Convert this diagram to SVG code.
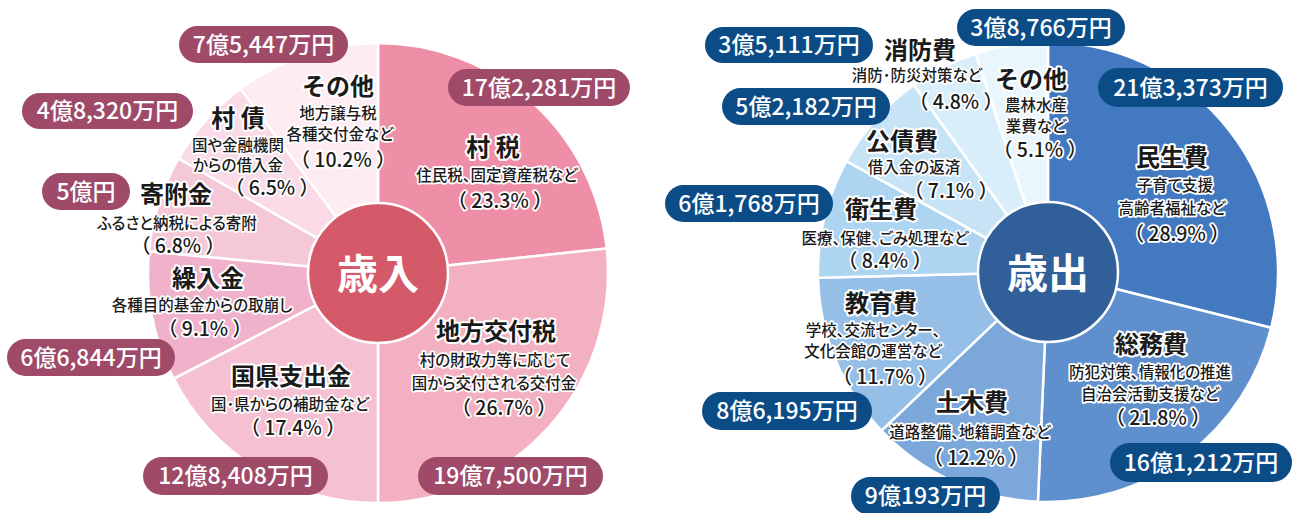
<svg xmlns="http://www.w3.org/2000/svg" width="1293" height="513" viewBox="0 0 1293 513">
<style>
text{font-family:"Noto Sans CJK JP","Noto Sans",sans-serif;text-anchor:middle}
.sl{stroke:#fff;stroke-width:2.5;stroke-linejoin:round}
.hub{stroke:#fff;stroke-width:2.5}
.hubt{fill:#fff;font-size:41px;font-weight:700}
.t{fill:#1a1a1a;font-size:24px;font-weight:700;stroke:#fff;stroke-width:4;paint-order:stroke;stroke-linejoin:round}
.s{fill:#1a1a1a;font-size:15.5px;font-weight:500;font-feature-settings:"palt";stroke:#fff;stroke-width:3.5;paint-order:stroke;stroke-linejoin:round}
.p{fill:#1a1a1a;font-size:19.5px;font-weight:500;stroke:#fff;stroke-width:3.5;paint-order:stroke;stroke-linejoin:round}
.pl{fill:#fff;font-size:23px;font-weight:500}
.pr{fill:#9f4a69}
.pb{fill:#0b4c87}
</style>

<g id="connectors">
<!-- Revenue pie slices -->
<path class="sl" fill="#ef8fa7" d="M378,273 L378,43 A230,230 0 0 1 606.69,248.48 Z"/>
<path class="sl" fill="#f3b0c1" d="M378,273 L606.69,248.48 A230,230 0 0 1 378,503 Z"/>
<path class="sl" fill="#f5c0d2" d="M378,273 L378,503 A230,230 0 0 1 173.72,378.72 Z"/>
<path class="sl" fill="#f0b2cb" d="M378,273 L173.72,378.72 A230,230 0 0 1 149.02,251.35 Z"/>
<path class="sl" fill="#f5c8d8" d="M378,273 L149.02,251.35 A230,230 0 0 1 178.57,158.42 Z"/>
<path class="sl" fill="#f9dae6" d="M378,273 L178.57,158.42 A230,230 0 0 1 240.49,88.63 Z"/>
<path class="sl" fill="#fdecf2" d="M378,273 L240.49,88.63 A230,230 0 0 1 378,43 Z"/>
<!-- Expenditure pie slices -->
<path class="sl" fill="#4279c0" d="M1048,272 L1048,42 A230,230 0 0 1 1271.13,327.8 Z"/>
<path class="sl" fill="#5f90cd" d="M1048,272 L1271.13,327.8 A230,230 0 0 1 1037.89,501.78 Z"/>
<path class="sl" fill="#7ba7da" d="M1048,272 L1037.89,501.78 A230,230 0 0 1 881.43,430.61 Z"/>
<path class="sl" fill="#95bfe7" d="M1048,272 L881.43,430.61 A230,230 0 0 1 818.07,277.78 Z"/>
<path class="sl" fill="#add5f1" d="M1048,272 L818.07,277.78 A230,230 0 0 1 846.45,161.2 Z"/>
<path class="sl" fill="#c7e4f6" d="M1048,272 L846.45,161.2 A230,230 0 0 1 913.96,85.1 Z"/>
<path class="sl" fill="#d8eefa" d="M1048,272 L913.96,85.1 A230,230 0 0 1 975.55,53.71 Z"/>
<path class="sl" fill="#eaf6fd" d="M1048,272 L975.55,53.71 A230,230 0 0 1 1048,42 Z"/>
</g>

<g id="hub-revenue">
<circle class="hub" cx="378" cy="273" r="70" fill="#d45a6a"/>
<text class="hubt" x="378" y="289">歳入</text>
</g>
<g id="hub-expenditure">
<circle class="hub" cx="1048" cy="272" r="70" fill="#305f99"/>
<text class="hubt" x="1048" y="288">歳出</text>
</g>

<!-- Revenue nodes -->
<g id="node-sonta">
<text class="t" x="338" y="95">その他</text>
<text class="s" x="338" y="118.5">地方譲与税</text>
<text class="s" x="340" y="140">各種交付金など</text>
<text class="p" x="343" y="167">（ 10.2% ）</text>
<rect class="pr" x="179" y="26" width="169" height="37" rx="18.5"/>
<text class="pl" x="263.5" y="52.5">7億5,447万円</text>
</g>
<g id="node-sonzei">
<text class="t" x="493" y="156">村 税</text>
<text class="s" x="497" y="181">住民税、固定資産税など</text>
<text class="p" x="500" y="207.5">（ 23.3% ）</text>
<rect class="pr" x="448" y="69" width="182" height="37" rx="18.5"/>
<text class="pl" x="539" y="95.5">17億2,281万円</text>
</g>
<g id="node-chihokofuzei">
<text class="t" x="496" y="340">地方交付税</text>
<text class="s" x="495" y="365.5">村の財政力等に応じて</text>
<text class="s" x="494" y="388.5">国から交付される交付金</text>
<text class="p" x="504" y="415">（ 26.7% ）</text>
<rect class="pr" x="418" y="457" width="185" height="38" rx="19"/>
<text class="pl" x="510.5" y="484">19億7,500万円</text>
</g>
<g id="node-kokken">
<text class="t" x="291" y="385">国県支出金</text>
<text class="s" x="290" y="409.5">国･県からの補助金など</text>
<text class="p" x="293" y="435">（ 17.4% ）</text>
<rect class="pr" x="143" y="457" width="185" height="38" rx="19"/>
<text class="pl" x="235.5" y="484">12億8,408万円</text>
</g>
<g id="node-kurinyu">
<text class="t" x="208" y="287">繰入金</text>
<text class="s" x="202" y="311">各種目的基金からの取崩し</text>
<text class="p" x="205" y="335.5">（ 9.1% ）</text>
<rect class="pr" x="7" y="339" width="168" height="37" rx="18.5"/>
<text class="pl" x="91" y="365.5">6億6,844万円</text>
</g>
<g id="node-kifu">
<text class="t" x="176" y="203">寄附金</text>
<text class="s" x="177" y="228.5">ふるさと納税による寄附</text>
<text class="p" x="178" y="253">（ 6.8% ）</text>
<rect class="pr" x="42" y="173" width="88" height="37" rx="18.5"/>
<text class="pl" x="86" y="199.5">5億円</text>
</g>
<g id="node-sonsai">
<text class="t" x="238" y="127">村 債</text>
<text class="s" x="238" y="150.5">国や金融機関</text>
<text class="s" x="238" y="170.5">からの借入金</text>
<text class="p" x="272" y="195">（ 6.5% ）</text>
<rect class="pr" x="22" y="93" width="171" height="36" rx="18"/>
<text class="pl" x="107.5" y="119">4億8,320万円</text>
</g>

<!-- Expenditure nodes -->
<g id="node-minsei">
<text class="t" x="1172" y="165.5">民生費</text>
<text class="s" x="1175" y="191">子育て支援</text>
<text class="s" x="1172" y="213.5">高齢者福祉など</text>
<text class="p" x="1177" y="241">（ 28.9% ）</text>
<rect class="pb" x="1098" y="68" width="185" height="39" rx="19.5"/>
<text class="pl" x="1190.5" y="95.5">21億3,373万円</text>
</g>
<g id="node-somu">
<text class="t" x="1151" y="352.5">総務費</text>
<text class="s" x="1150" y="377.5">防犯対策、情報化の推進</text>
<text class="s" x="1150" y="399.5">自治会活動支援など</text>
<text class="p" x="1158" y="425">（ 21.8% ）</text>
<rect class="pb" x="1110" y="443" width="182" height="39" rx="19.5"/>
<text class="pl" x="1201" y="470.5">16億1,212万円</text>
</g>
<g id="node-doboku">
<text class="t" x="972" y="411">土木費</text>
<text class="s" x="970" y="437.5">道路整備、地籍調査など</text>
<text class="p" x="976" y="464.5">（ 12.2% ）</text>
<rect class="pb" x="851" y="477" width="149" height="38" rx="19"/>
<text class="pl" x="925.5" y="504">9億193万円</text>
</g>
<g id="node-kyoiku">
<text class="t" x="881" y="311.5">教育費</text>
<text class="s" x="873" y="336">学校、交流センター、</text>
<text class="s" x="873" y="356.5">文化会館の運営など</text>
<text class="p" x="885" y="384">（ 11.7% ）</text>
<rect class="pb" x="702" y="392" width="170" height="38" rx="19"/>
<text class="pl" x="787" y="419">8億6,195万円</text>
</g>
<g id="node-eisei">
<text class="t" x="881" y="217.5">衛生費</text>
<text class="s" x="885" y="243.5">医療、保健、ごみ処理など</text>
<text class="p" x="885" y="268">（ 8.4% ）</text>
<rect class="pb" x="665" y="185" width="168" height="37" rx="18.5"/>
<text class="pl" x="749" y="211.5">6億1,768万円</text>
</g>
<g id="node-kosai">
<text class="t" x="902" y="150">公債費</text>
<text class="s" x="914" y="172.5">借入金の返済</text>
<text class="p" x="951" y="197.5">（ 7.1% ）</text>
<rect class="pb" x="722" y="88" width="168" height="37" rx="18.5"/>
<text class="pl" x="806" y="114.5">5億2,182万円</text>
</g>
<g id="node-shobo">
<text class="t" x="920" y="59">消防費</text>
<text class="s" x="917" y="81">消防･防災対策など</text>
<text class="p" x="956" y="109">（ 4.8% ）</text>
<rect class="pb" x="705" y="27" width="168" height="36" rx="18"/>
<text class="pl" x="789" y="53">3億5,111万円</text>
</g>
<g id="node-sonota-exp">
<text class="t" x="1031" y="87.5">その他</text>
<text class="s" x="1036" y="110.5">農林水産</text>
<text class="s" x="1036" y="131.5">業費など</text>
<text class="p" x="1040" y="157">（ 5.1% ）</text>
<rect class="pb" x="957" y="9" width="168" height="37" rx="18.5"/>
<text class="pl" x="1041" y="35.5">3億8,766万円</text>
</g>
</svg>
